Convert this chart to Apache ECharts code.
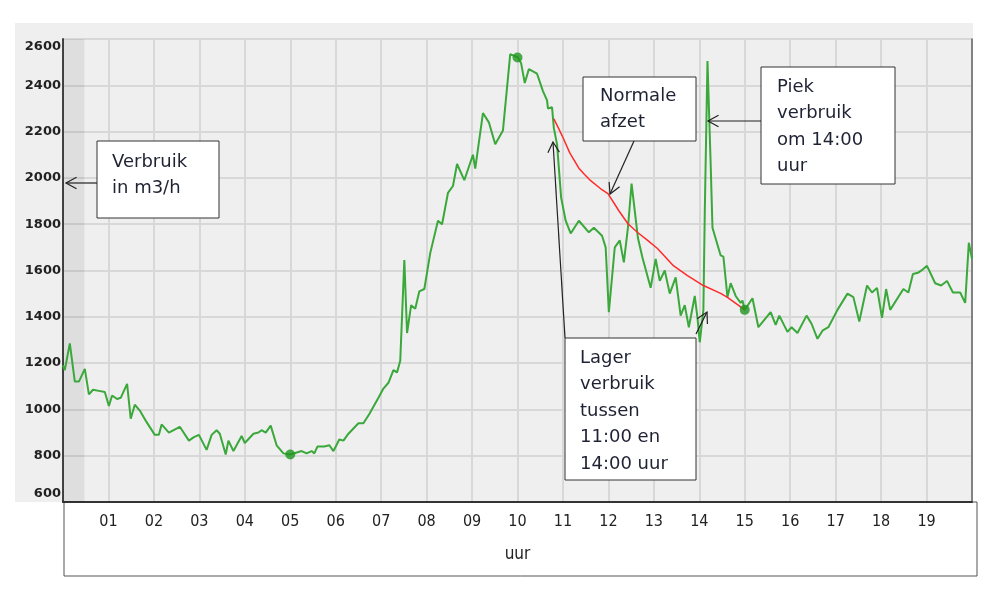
<!DOCTYPE html>
<html>
<head>
<meta charset="utf-8">
<script src="https://cdn.jsdelivr.net/npm/echarts@6/dist/echarts.min.js"></script>
<style>
  html, body { margin: 0; padding: 0; background: #fff; }
  #chart { width: 1002px; height: 600px; }
</style>
</head>
<body>
<div id="chart"></div>
<script>
// gemeten verbruik: uur van de dag en m3/h
var uren = [0, 0.04, 0.15, 0.26, 0.35, 0.48, 0.57, 0.66, 0.79, 0.92, 1.01, 1.08, 1.19, 1.27, 1.41, 1.49, 1.58, 1.69, 1.84,
  2.02, 2.11, 2.17, 2.33, 2.57, 2.77, 2.88, 2.99, 3.16, 3.27, 3.38, 3.45, 3.58, 3.64, 3.75, 3.93, 4.00, 4.19, 4.30, 4.37,
  4.46, 4.57, 4.70, 4.85, 5.00, 5.25, 5.36, 5.47, 5.53, 5.60, 5.75, 5.86, 5.95, 6.08, 6.17, 6.28, 6.50, 6.61, 6.74, 6.94,
  7.05, 7.16, 7.27, 7.35, 7.42, 7.51, 7.57, 7.66, 7.75, 7.84, 7.95, 8.08, 8.25, 8.34, 8.47, 8.58, 8.67, 8.83, 9.02, 9.07,
  9.24, 9.37, 9.51, 9.68, 9.84, 10.01, 10.08, 10.16, 10.25, 10.43, 10.56, 10.65, 10.67, 10.76, 10.80, 10.87, 10.96, 11.06,
  11.17, 11.35, 11.57, 11.68, 11.86, 11.94, 12.01, 12.14, 12.25, 12.34, 12.43, 12.51, 12.65, 12.75, 12.93, 13.04, 13.13,
  13.24, 13.35, 13.48, 13.59, 13.68, 13.77, 13.90, 13.96, 14.01, 14.09, 14.12, 14.18, 14.25, 14.29, 14.47, 14.53, 14.62,
  14.69, 14.80, 14.91, 14.95, 15.00, 15.17, 15.30, 15.57, 15.68, 15.76, 15.94, 16.03, 16.16, 16.36, 16.47, 16.60, 16.71,
  16.84, 17.04, 17.26, 17.39, 17.52, 17.69, 17.80, 17.91, 18.02, 18.11, 18.20, 18.49, 18.60, 18.70, 18.81, 18.92, 19.01,
  19.19, 19.32, 19.45, 19.58, 19.74, 19.85, 19.93, 20.00];
var verbruik = [1190, 1170, 1285, 1120, 1120, 1175, 1065, 1085, 1080, 1075, 1015, 1060, 1045, 1050, 1110, 960, 1020, 995, 945,
  890, 890, 935, 900, 925, 865, 880, 890, 825, 890, 910, 895, 805, 865, 820, 885, 855, 895, 900, 910,
  900, 930, 845, 810, 805, 820, 810, 820, 810, 840, 840, 845, 820, 870, 865, 895, 940, 940, 980, 1050,
  1090, 1115, 1170, 1160, 1210, 1645, 1330, 1450, 1435, 1510, 1520, 1675, 1815, 1800, 1935, 1965, 2060, 1990, 2100, 2040,
  2280, 2240, 2145, 2205, 2535, 2520, 2495, 2410, 2470, 2450, 2375, 2335, 2300, 2305, 2215, 2145, 1915, 1815,
  1760, 1815, 1765, 1785, 1750, 1700, 1420, 1700, 1730, 1635, 1785, 1975, 1740, 1655, 1525, 1650, 1555,
  1600, 1500, 1570, 1405, 1450, 1355, 1490, 1395, 1290, 1430, 1845, 2505, 2060, 1785, 1665, 1660, 1485,
  1545, 1490, 1460, 1470, 1430, 1480, 1355, 1420, 1365, 1405, 1335, 1355, 1330, 1405, 1370, 1305, 1340,
  1355, 1430, 1500, 1485, 1380, 1535, 1505, 1525, 1395, 1520, 1430, 1520, 1505, 1585, 1590, 1605, 1620,
  1545, 1535, 1555, 1505, 1505, 1460, 1720, 1650];

// normale afzet (rode lijn)
var normaalUren = [10.80, 10.91, 11.01, 11.15, 11.35, 11.46, 11.61, 11.83, 11.99, 12.23, 12.43, 12.65, 12.87, 13.08,
  13.43, 13.74, 14.09, 14.47, 14.62, 15.00];
var normaalAfzet = [2255, 2212, 2170, 2108, 2042, 2018, 1988, 1953, 1932, 1858, 1802, 1763, 1729, 1695,
  1621, 1578, 1535, 1501, 1484, 1430];

// gemarkeerde punten
var puntUren = [5, 10, 15];
var puntWaarden = [805, 2520, 1430];

var uurLabels = ['01', '02', '03', '04', '05', '06', '07', '08', '09', '10',
  '11', '12', '13', '14', '15', '16', '17', '18', '19'];

function paren(xs, ys) {
  return xs.map(function (x, i) { return [x, ys[i]]; });
}

var tekstFont = '18px "DejaVu Sans", Verdana, sans-serif';

function doos(x, y, w, h, tekst, tx, ty) {
  return [
    { type: 'rect', z: 20, shape: { x: x, y: y, width: w, height: h },
      style: { fill: '#fff', stroke: '#333', lineWidth: 1 } },
    { type: 'text', z: 21, x: tx, y: ty,
      style: { text: tekst, font: tekstFont, fill: '#1f2233', lineHeight: 26.5, verticalAlign: 'top' } }
  ];
}

function pijl(x1, y1, x2, y2) {
  var a = Math.atan2(y2 - y1, x2 - x1), L = 12, k = 0.5;
  return [
    { type: 'line', z: 20, shape: { x1: x1, y1: y1, x2: x2, y2: y2 },
      style: { stroke: '#222', lineWidth: 1.2 } },
    { type: 'polyline', z: 20,
      shape: { points: [
        [x2 - L * Math.cos(a - k), y2 - L * Math.sin(a - k)],
        [x2, y2],
        [x2 - L * Math.cos(a + k), y2 - L * Math.sin(a + k)]
      ] },
      style: { stroke: '#222', lineWidth: 1.2, fill: null } }
  ];
}

var graphics = [
  { type: 'rect', z: -10, silent: true, shape: { x: 15, y: 23, width: 958, height: 479 },
    style: { fill: '#efefef' } },
  { type: 'rect', z: -10, silent: true, shape: { x: 64, y: 502, width: 913, height: 74 },
    style: { fill: '#fff', stroke: '#555', lineWidth: 1 } }
]
  .concat(doos(97, 141, 122, 77, 'Verbruik\nin m3/h', 112, 149))
  .concat(pijl(97, 183, 66, 183))
  .concat(doos(583, 77, 113, 64, 'Normale\nafzet', 600, 83))
  .concat(pijl(634, 141, 610, 194))
  .concat(doos(761, 67, 134, 117, 'Piek\nverbruik\nom 14:00\nuur', 777, 74))
  .concat(pijl(761, 121, 708, 121))
  .concat(doos(565, 338, 131, 142, 'Lager\nverbruik\ntussen\n11:00 en\n14:00 uur', 580, 345))
  .concat(pijl(565, 338, 553, 142))
  .concat(pijl(696, 334, 707, 312));

var chart = echarts.init(document.getElementById('chart'));
chart.setOption({
  animation: false,
  backgroundColor: 'transparent',
  grid: { left: 63, top: 39, right: 30, bottom: 98, containLabel: false, outerBoundsMode: 'none' },
  xAxis: {
    type: 'value', min: 0, max: 20, interval: 1,
    name: 'uur', nameLocation: 'middle', nameGap: 44,
    nameTextStyle: { fontSize: 17, color: '#222', fontFamily: '"Liberation Sans Narrow", "DejaVu Sans Condensed", sans-serif' },
    axisLine: { show: true, lineStyle: { color: '#333', width: 2 } },
    axisTick: { show: false },
    axisLabel: {
      margin: 12, fontSize: 16, color: '#222',
      fontFamily: '"Liberation Sans Narrow", "DejaVu Sans Condensed", sans-serif',
      formatter: function (v) { return (v >= 1 && v <= 19) ? uurLabels[v - 1] : ''; }
    },
    splitLine: { show: true, lineStyle: { color: '#d8d8d8', width: 2 } }
  },
  yAxis: [{
    type: 'value', min: 600, max: 2600, interval: 200,
    axisLine: { show: true, lineStyle: { color: '#444', width: 2 } },
    axisTick: { show: false },
    axisLabel: {
      margin: 2, fontSize: 13, fontWeight: 'bold', color: '#222',
      fontFamily: '"DejaVu Sans", Verdana, sans-serif',
      formatter: function (v) {
        if (v === 600) return '{lo|600}';
        if (v === 2600) return '{hi|2600}';
        return String(v);
      },
      rich: {
        lo: { fontSize: 13, fontWeight: 'bold', color: '#222', fontFamily: '"DejaVu Sans", sans-serif', padding: [0, 0, 16, 0] },
        hi: { fontSize: 13, fontWeight: 'bold', color: '#222', fontFamily: '"DejaVu Sans", sans-serif', padding: [16, 0, 0, 0] }
      }
    },
    splitLine: { show: true, lineStyle: { color: '#d8d8d8', width: 2 } }
  }, {
    type: 'value', position: 'right', min: 600, max: 2600, interval: 200,
    axisLine: { show: true, lineStyle: { color: '#666', width: 1.5 } },
    axisTick: { show: false }, axisLabel: { show: false }, splitLine: { show: false }
  }],
  series: [{
    name: 'Verbruik', type: 'line', silent: true, z: 3,
    data: paren(uren, verbruik),
    showSymbol: false, symbol: 'none',
    lineStyle: { color: '#3aa83a', width: 2 },
    markArea: {
      silent: true,
      itemStyle: { color: 'rgba(0,0,0,0.07)' },
      data: [[{ xAxis: 0 }, { xAxis: 0.47 }]]
    }
  }, {
    name: 'Normale afzet', type: 'line', silent: true, z: 4,
    data: paren(normaalUren, normaalAfzet),
    showSymbol: false, symbol: 'none',
    lineStyle: { color: '#ff2b2b', width: 1.5 }
  }, {
    name: 'punten', type: 'scatter', silent: true, z: 5,
    data: paren(puntUren, puntWaarden),
    symbolSize: 10,
    itemStyle: { color: '#1f961f' }
  }],
  graphic: graphics
});
</script>
</body>
</html>
